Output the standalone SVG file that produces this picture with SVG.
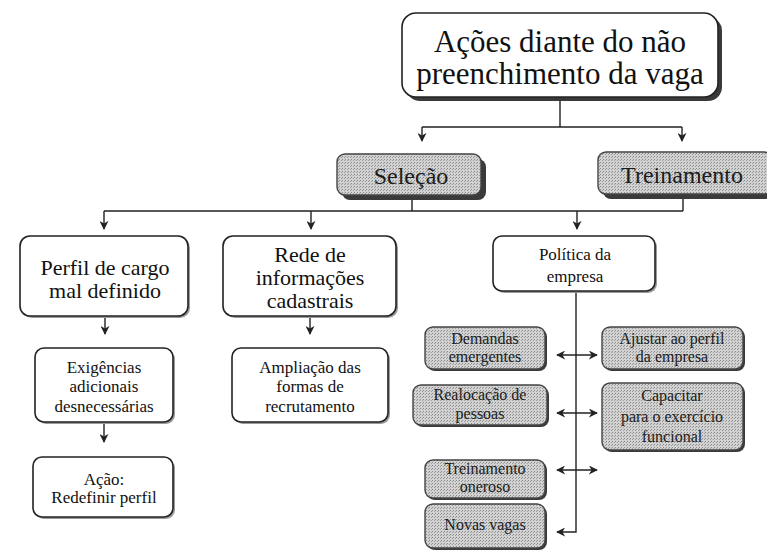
<svg xmlns="http://www.w3.org/2000/svg" width="767" height="553" viewBox="0 0 767 553">
<defs>
<style>
.box{fill:#ffffff;stroke:#222;stroke-width:1.6}
.gbox{fill:url(#dots);stroke:#444;stroke-width:1.4}
.sh{fill:#3a3a3a}
.shl{fill:#9a9a9a}
.t{fill:#111;text-anchor:middle}
.g{fill:#1c1c1c;text-anchor:middle}
.c{fill:none;stroke:#222;stroke-width:1.4}
</style>
<pattern id="dots" width="3" height="3" patternUnits="userSpaceOnUse">
<rect width="3" height="3" fill="#d2d2d2"/>
<rect x="0" y="0" width="1" height="1" fill="#8a8a8a"/>
<rect x="2" y="1" width="1" height="1" fill="#9a9a9a"/>
</pattern>
<marker id="ah" viewBox="0 0 10 10" refX="9" refY="5" markerWidth="9" markerHeight="9" orient="auto-start-reverse" markerUnits="userSpaceOnUse">
<path d="M0,0 L10,5 L0,10 L3,5 Z" fill="#222"/>
</marker>
</defs>
<rect width="767" height="553" fill="#ffffff"/>

<g id="connectors">
<path class="c" d="M560,97 V127 M422,127 H682" />
<path class="c" d="M422,127 V141" marker-end="url(#ah)"/>
<path class="c" d="M682,127 V141" marker-end="url(#ah)"/>
<path class="c" d="M412,199 V211 M683,199 V211 M104,211 H683"/>
<path class="c" d="M104,211 V229" marker-end="url(#ah)"/>
<path class="c" d="M311,211 V229" marker-end="url(#ah)"/>
<path class="c" d="M577,211 V229" marker-end="url(#ah)"/>
<path class="c" d="M105,316 V334" marker-end="url(#ah)"/>
<path class="c" d="M310,316 V334" marker-end="url(#ah)"/>
<path class="c" d="M104,422 V442" marker-end="url(#ah)"/>
<path class="c" d="M576,291 V532 H557" marker-end="url(#ah)"/>
<path class="c" d="M557,355 H597" marker-start="url(#ah)" marker-end="url(#ah)"/>
<path class="c" d="M557,413 H597" marker-start="url(#ah)" marker-end="url(#ah)"/>
<path class="c" d="M557,470 H597" marker-start="url(#ah)" marker-end="url(#ah)"/>
</g>

<g font-family="'Liberation Serif', 'Times New Roman', serif">
<g id="n-top">
<rect class="sh" x="406" y="17" width="316" height="84" rx="14"/>
<rect class="box" x="402" y="13" width="316" height="84" rx="14"/>
<text class="t" x="560" y="52" font-size="31">Ações diante do não</text>
<text class="t" x="560" y="84" font-size="31">preenchimento da vaga</text>
</g>

<g id="n-selecao">
<rect class="sh" x="342" y="159" width="144" height="41" rx="8"/>
<rect class="gbox" x="337" y="154" width="144" height="41" rx="8"/>
<text class="g" x="411" y="184" font-size="24">Seleção</text>
</g>

<g id="n-treinamento">
<rect class="sh" x="603" y="157" width="170" height="42" rx="8"/>
<rect class="gbox" x="598" y="152" width="174" height="42" rx="8"/>
<text class="g" x="682" y="183" font-size="24">Treinamento</text>
</g>

<g id="n-perfil">
<rect class="shl" x="22" y="238" width="168" height="80" rx="10"/>
<rect class="box" x="20" y="236" width="168" height="80" rx="10"/>
<text class="t" x="105" y="275" font-size="22">Perfil de cargo</text>
<text class="t" x="105" y="298" font-size="22">mal definido</text>
</g>

<g id="n-rede">
<rect class="shl" x="225" y="238" width="173" height="80" rx="10"/>
<rect class="box" x="223" y="236" width="173" height="80" rx="10"/>
<text class="t" x="310" y="262" font-size="22">Rede de</text>
<text class="t" x="310" y="285" font-size="22">informações</text>
<text class="t" x="310" y="308" font-size="22">cadastrais</text>
</g>

<g id="n-exigencias">
<rect class="shl" x="37" y="350" width="138" height="74" rx="9"/>
<rect class="box" x="35" y="348" width="138" height="74" rx="9"/>
<text class="t" x="104" y="373" font-size="17">Exigências</text>
<text class="t" x="104" y="392" font-size="17">adicionais</text>
<text class="t" x="104" y="412" font-size="17">desnecessárias</text>
</g>

<g id="n-acao">
<rect class="shl" x="35" y="459" width="140" height="60" rx="9"/>
<rect class="box" x="33" y="457" width="140" height="60" rx="9"/>
<text class="t" x="104" y="485" font-size="17">Ação:</text>
<text class="t" x="104" y="503" font-size="17">Redefinir perfil</text>
</g>

<g id="n-ampliacao">
<rect class="shl" x="234" y="350" width="156" height="74" rx="9"/>
<rect class="box" x="232" y="348" width="156" height="74" rx="9"/>
<text class="t" x="310" y="373" font-size="17">Ampliação das</text>
<text class="t" x="310" y="392" font-size="17">formas de</text>
<text class="t" x="310" y="412" font-size="17">recrutamento</text>
</g>

<g id="n-politica">
<rect class="shl" x="495" y="238" width="162" height="55" rx="9"/>
<rect class="box" x="493" y="236" width="162" height="55" rx="9"/>
<text class="t" x="575" y="260" font-size="17">Política da</text>
<text class="t" x="575" y="282" font-size="17">empresa</text>
</g>

<g id="n-demandas">
<rect class="sh" x="427" y="329" width="120" height="42" rx="8"/>
<rect class="gbox" x="425" y="327" width="120" height="42" rx="8"/>
<text class="g" x="485" y="344" font-size="16">Demandas</text>
<text class="g" x="485" y="362" font-size="16">emergentes</text>
</g>

<g id="n-realocacao">
<rect class="sh" x="415" y="387" width="134" height="40" rx="8"/>
<rect class="gbox" x="413" y="385" width="134" height="40" rx="8"/>
<text class="g" x="480" y="400" font-size="16">Realocação de</text>
<text class="g" x="480" y="419" font-size="16">pessoas</text>
</g>

<g id="n-treinamento-oneroso">
<rect class="sh" x="427" y="462" width="120" height="38" rx="8"/>
<rect class="gbox" x="425" y="460" width="120" height="38" rx="8"/>
<text class="g" x="485" y="474" font-size="16">Treinamento</text>
<text class="g" x="485" y="492" font-size="16">oneroso</text>
</g>

<g id="n-novas-vagas">
<rect class="sh" x="427" y="506" width="120" height="44" rx="8"/>
<rect class="gbox" x="425" y="504" width="120" height="44" rx="8"/>
<text class="g" x="485" y="530" font-size="16">Novas vagas</text>
</g>

<g id="n-ajustar">
<rect class="sh" x="604" y="329" width="141" height="42" rx="8"/>
<rect class="gbox" x="602" y="327" width="141" height="42" rx="8"/>
<text class="g" x="672" y="344" font-size="16">Ajustar ao perfil</text>
<text class="g" x="672" y="362" font-size="16">da empresa</text>
</g>

<g id="n-capacitar">
<rect class="sh" x="604" y="385" width="141" height="67" rx="8"/>
<rect class="gbox" x="602" y="383" width="141" height="67" rx="8"/>
<text class="g" x="672" y="401" font-size="16">Capacitar</text>
<text class="g" x="672" y="422" font-size="16">para o exercício</text>
<text class="g" x="672" y="442" font-size="16">funcional</text>
</g>
</g>
</svg>
